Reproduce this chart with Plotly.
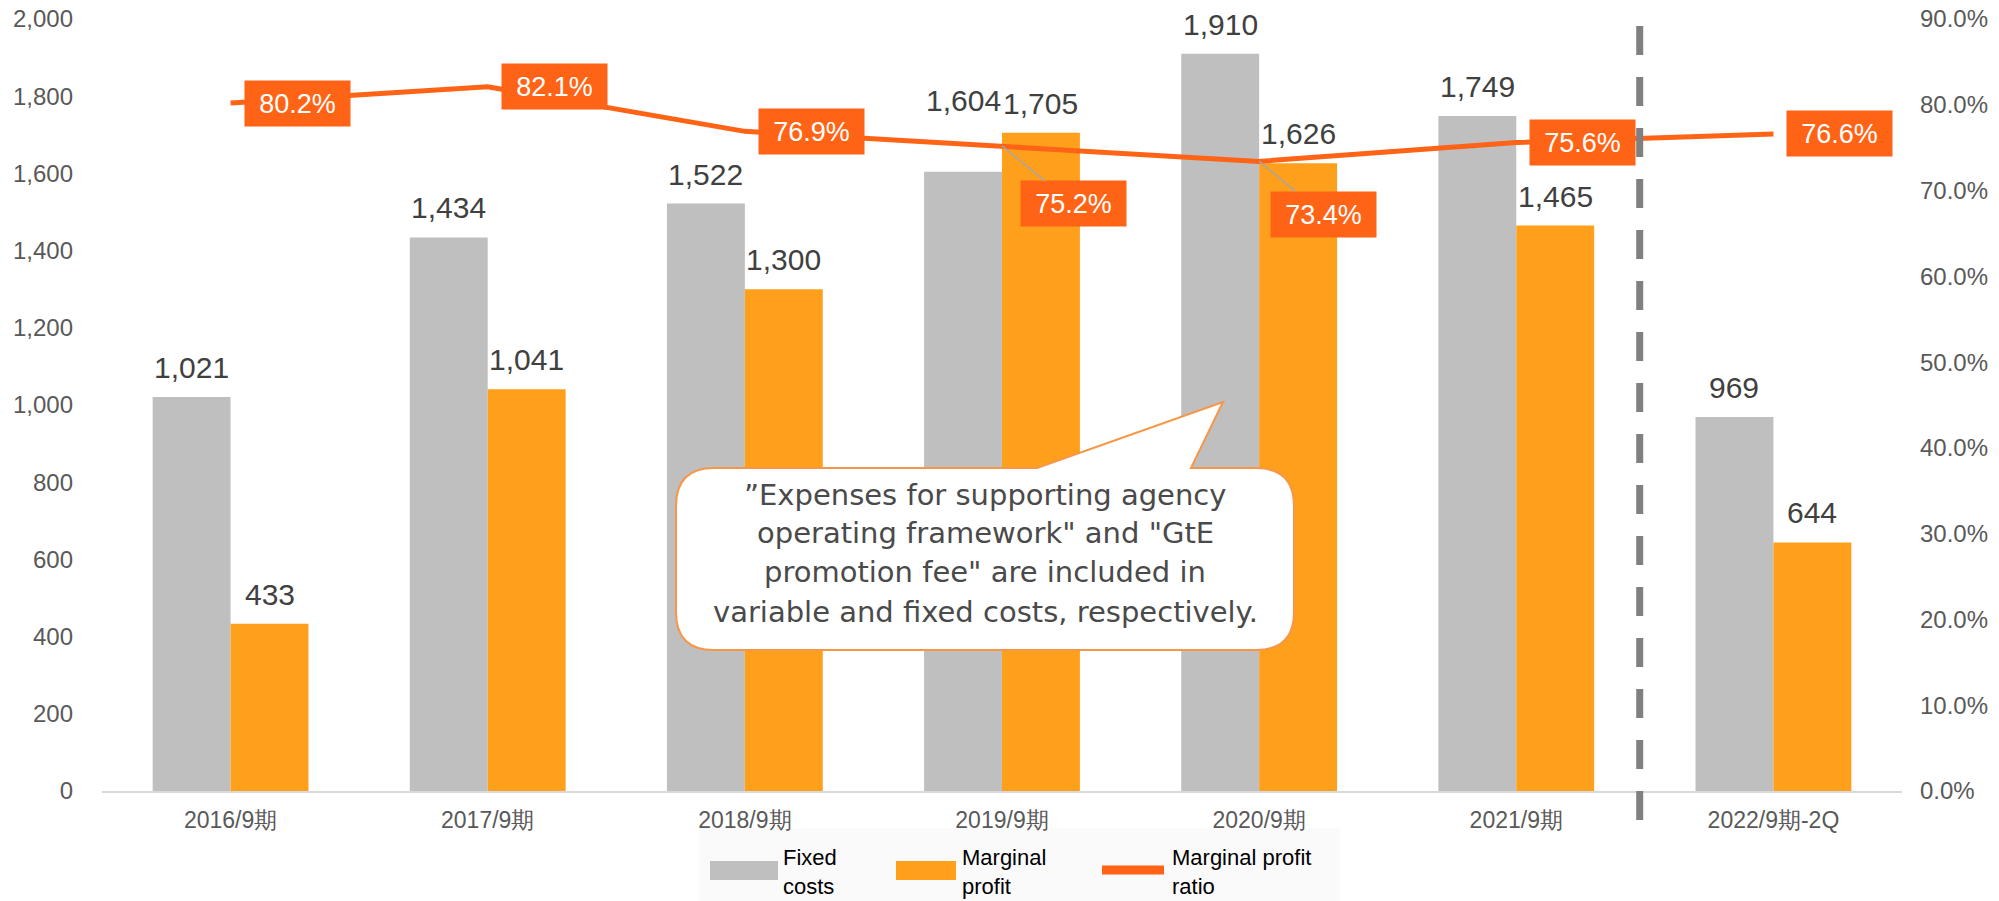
import plotly.graph_objects as go

# ---------------- data ----------------
categories = ["2016/9期", "2017/9期", "2018/9期", "2019/9期", "2020/9期", "2021/9期", "2022/9期-2Q"]
fixed_costs = [1021, 1434, 1522, 1604, 1910, 1749, 969]
marginal_profit = [433, 1041, 1300, 1705, 1626, 1465, 644]
marginal_ratio = [0.802, 0.821, 0.769, 0.752, 0.734, 0.756, 0.766]
left_ticks = [0, 200, 400, 600, 800, 1000, 1200, 1400, 1600, 1800, 2000]
right_ticks = [0.0, 0.1, 0.2, 0.3, 0.4, 0.5, 0.6, 0.7, 0.8, 0.9]
series_names = ["Fixed costs", "Marginal profit", "Marginal profit ratio"]
legend_lines = [["Fixed", "costs"], ["Marginal", "profit"], ["Marginal profit", "ratio"]]
callout_lines = [
    "\u201dExpenses for supporting agency",
    "operating framework\" and \"GtE",
    "promotion fee\" are included in",
    "variable and fixed costs, respectively.",
]

# ---------------- styles ----------------
GRAY = "#BFBFBF"
ORANGE = "#FFA01C"
RED = "#FF6316"
FONT = "Liberation Sans, Arial, sans-serif"

W, H = 1999, 901
ML, MR, MT, MB = 102, 97, 19, 110
PW, PH = W - ML - MR, H - MT - MB


def pxx(x):
    return (x - ML) / PW


def pxy(y):
    return (H - MB - y) / PH


x_idx = list(range(len(categories)))

fig = go.Figure()
fig.add_trace(go.Bar(x=x_idx, y=fixed_costs, name=series_names[0], marker=dict(color=GRAY, line=dict(width=0)),
                     offsetgroup="a", showlegend=False, hoverinfo="skip"))
fig.add_trace(go.Bar(x=x_idx, y=marginal_profit, name=series_names[1], marker=dict(color=ORANGE, line=dict(width=0)),
                     offsetgroup="b", showlegend=False, hoverinfo="skip"))
fig.add_trace(go.Scatter(x=x_idx, y=marginal_ratio, name=series_names[2], yaxis="y2", mode="lines",
                         line=dict(color=RED, width=5), showlegend=False, hoverinfo="skip"))

annotations = []
half = 0.1515
extra_shift = {("f", 3): 42}
for i in x_idx:
    for key, vals, dx in (("f", fixed_costs, -half), ("m", marginal_profit, half)):
        annotations.append(dict(x=i + dx, y=vals[i], xref="x", yref="y", text=f"{vals[i]:,}",
                                showarrow=False, yanchor="bottom", yshift=11 + extra_shift.get((key, i), 0),
                                font=dict(family=FONT, size=30, color="#404040")))

# ratio labels
arrow_offsets = {3: (71, 58), 4: (64, 53)}
for i in x_idx:
    base = dict(x=i, y=marginal_ratio[i], xref="x", yref="y2", text=f"{marginal_ratio[i]*100:.1f}%",
                font=dict(family=FONT, size=27, color="white"), bgcolor=RED, borderpad=3,
                width=99, height=39)
    if i in arrow_offsets:
        ax, ay = arrow_offsets[i]
        base.update(showarrow=True, arrowhead=0, arrowwidth=1.5, arrowcolor="#A6A6A6", ax=ax, ay=ay)
    else:
        base.update(showarrow=False, xanchor="left", yanchor="middle", xshift=13)
    annotations.append(base)

# callout text
cy = [495, 533, 572, 612]
for line, y in zip(callout_lines, cy):
    annotations.append(dict(x=pxx(985), y=pxy(y), xref="paper", yref="paper", text=line, showarrow=False,
                            xanchor="center", yanchor="middle",
                            font=dict(family="DejaVu Sans, sans-serif", size=29, color="#4A4A4A")))

# legend text
leg_x = [781, 960, 1170]
for lines, lx in zip(legend_lines, leg_x):
    annotations.append(dict(x=pxx(lx), y=pxy(872), xref="paper", yref="paper", text="<br>".join(lines),
                            showarrow=False, xanchor="left", yanchor="middle", align="left",
                            font=dict(family=FONT, size=22, color="#000000")))

shapes = []
# dashed divider between 2021 and 2022
shapes.append(dict(type="line", xref="x", yref="paper", x0=5.48, x1=5.48, y0=pxy(26), y1=pxy(826),
                   line=dict(color="#808080", width=7, dash="29px,22px"), layer="above"))

# callout bubble
L, R, T, B, r = 676, 1294, 468, 650, 38
tl, tr, tip = 1037, 1191, (1223, 402)


def P(x, y):
    return f"{pxx(x):.5f},{pxy(y):.5f}"


path = (f"M {P(L + r, T)} L {P(tl, T)} L {P(*tip)} L {P(tr, T)} L {P(R - r, T)} "
        f"Q {P(R, T)} {P(R, T + r)} L {P(R, B - r)} Q {P(R, B)} {P(R - r, B)} "
        f"L {P(L + r, B)} Q {P(L, B)} {P(L, B - r)} L {P(L, T + r)} Q {P(L, T)} {P(L + r, T)} Z")
shapes.append(dict(type="path", xref="paper", yref="paper", path=path, fillcolor="white",
                   line=dict(color="#F79646", width=2), layer="above"))

# legend
shapes.append(dict(type="rect", xref="paper", yref="paper", x0=pxx(699), x1=pxx(1340), y0=pxy(828), y1=pxy(901),
                   fillcolor="#FAFAFA", line=dict(width=0), layer="below"))
shapes.append(dict(type="rect", xref="paper", yref="paper", x0=pxx(710), x1=pxx(778), y0=pxy(861), y1=pxy(880),
                   fillcolor=GRAY, line=dict(width=0)))
shapes.append(dict(type="rect", xref="paper", yref="paper", x0=pxx(896), x1=pxx(956), y0=pxy(861), y1=pxy(880),
                   fillcolor=ORANGE, line=dict(width=0)))
shapes.append(dict(type="line", xref="paper", yref="paper", x0=pxx(1102), x1=pxx(1164), y0=pxy(870), y1=pxy(870),
                   line=dict(color=RED, width=9)))

fig.update_layout(
    width=W, height=H,
    margin=dict(l=ML, r=MR, t=MT, b=MB, pad=0),
    paper_bgcolor="white", plot_bgcolor="white",
    barmode="group", bargap=0.394, bargroupgap=0,
    showlegend=False,
    font=dict(family=FONT),
    xaxis=dict(range=[-0.5, 6.5], tickmode="array", tickvals=x_idx, ticktext=categories,
               showline=True, linecolor="#D9D9D9", linewidth=2, ticks="", showgrid=False, zeroline=False,
               tickfont=dict(family=FONT, size=23, color="#595959"), ticklabelstandoff=7, fixedrange=True),
    yaxis=dict(range=[0, 2000], tickmode="array", tickvals=left_ticks, tickformat=",",
               showgrid=False, zeroline=False, showline=False, ticks="", automargin=False,
               tickfont=dict(family=FONT, size=24, color="#595959"), ticklabelstandoff=28),
    yaxis2=dict(range=[0, 0.9], overlaying="y", side="right", tickmode="array", tickvals=right_ticks,
                tickformat=".1%", showgrid=False, zeroline=False, showline=False, ticks="", automargin=False,
                tickfont=dict(family=FONT, size=24, color="#595959"), ticklabelstandoff=17),
    annotations=annotations,
    shapes=shapes,
)

fig.write_html("out.html")
